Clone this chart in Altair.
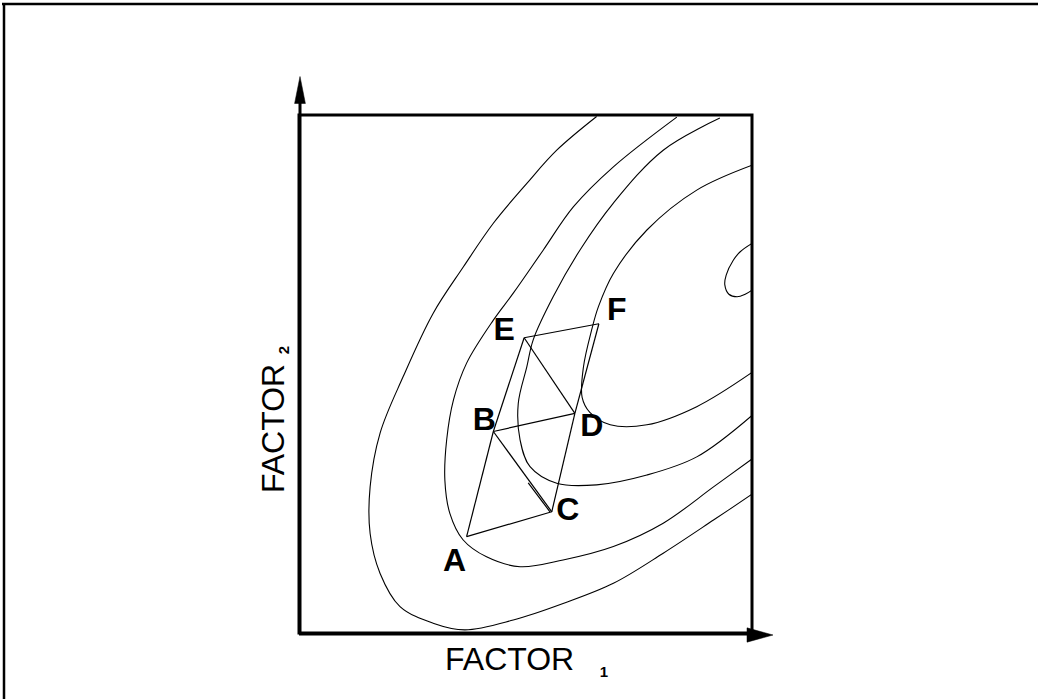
import altair as alt
import pandas as pd

# --- Simplex vertices (FACTOR 1, FACTOR 2 in % of the experimental range) ---
vertex_names = ["A", "B", "C", "D", "E", "F"]
vertex_f1 = [37.0, 42.9, 55.8, 60.9, 49.7, 66.2]
vertex_f2 = [18.6, 38.9, 23.4, 42.4, 57.0, 59.7]

# edges of the successive simplexes
edges = [("A", "B"), ("A", "C"), ("B", "C"), ("B", "D"), ("C", "D"),
         ("B", "E"), ("E", "D"), ("E", "F"), ("F", "D")]

# short retraced stroke beside B-C
retrace_f1 = [50.6, 55.4]
retrace_f2 = [29.0, 23.4]

# --- Response-surface contour lines ---
c1_f1 = [65.7, 56.9, 50.3, 42.9, 36.3, 29.6, 23.0, 17.9, 15.7, 15.7, 17.9, 22.3,
         29.6, 36.6, 47.3, 58.3, 69.4, 80.4, 91.5, 100.0]
c1_f2 = [99.7, 93.2, 86.8, 79.1, 70.7, 61.7, 49.5, 38.6, 28.2, 19.2, 11.5, 5.1,
         1.9, 0.6, 2.5, 5.7, 9.6, 15.4, 21.8, 26.8]

c2_f1 = [83.4, 69.4, 60.6, 53.9, 47.3, 42.9, 37.0, 34.1, 32.6, 32.2, 33.3, 36.2,
         41.4, 48.8, 58.3, 69.4, 80.4, 91.5, 100.0]
c2_f2 = [99.6, 90.0, 82.3, 73.9, 65.6, 60.4, 52.1, 45.0, 37.3, 29.5, 23.1, 18.0,
         14.7, 12.8, 14.1, 16.7, 21.2, 28.2, 33.6]

c3_f1 = [92.9, 80.4, 69.4, 62.0, 56.1, 51.7, 50.3, 48.4, 48.8, 51.0, 56.9, 65.7,
         76.8, 87.8, 100.0]
c3_f2 = [99.4, 93.2, 83.0, 73.9, 64.9, 56.6, 51.4, 44.3, 37.3, 32.1, 28.9, 28.6,
         30.5, 34.0, 42.0]

c4_f1 = [100.0, 87.8, 76.8, 69.4, 66.1, 64.6, 62.8, 62.5, 64.2, 68.7, 76.8, 87.8, 100.0]
c4_f2 = [90.3, 85.5, 77.8, 69.4, 63.0, 58.5, 51.4, 45.5, 42.6, 40.2, 40.2, 43.7, 50.3]

c5_f1 = [100.0, 97.4, 95.9, 94.3, 94.0, 94.9, 96.7, 98.5, 100.0]
c5_f2 = [75.2, 73.6, 72.0, 69.1, 67.2, 65.4, 64.9, 65.4, 66.2]

contours = [(c1_f1, c1_f2), (c2_f1, c2_f2), (c3_f1, c3_f2), (c4_f1, c4_f2), (c5_f1, c5_f2)]

W, H = 453, 518
INK = "black"
FONT = "Liberation Sans"

xs = alt.Scale(domain=[0, 100], nice=False, zero=False)
ys = alt.Scale(domain=[0, 100], nice=False, zero=False)

# contour table
rows = []
for k, (fx, fy) in enumerate(contours):
    for i, (a, b) in enumerate(zip(fx, fy)):
        rows.append({"level": k, "i": i, "f1": a, "f2": b})
contour_df = pd.DataFrame(rows)

contour_layer = alt.Chart(contour_df).mark_line(
    color=INK, strokeWidth=1.1, interpolate="catmull-rom", clip=True
).encode(
    x=alt.X("f1:Q", scale=xs, axis=None),
    y=alt.Y("f2:Q", scale=ys, axis=None),
    detail="level:N",
    order="i:Q",
)

# simplex edge table
pos = {n: (a, b) for n, a, b in zip(vertex_names, vertex_f1, vertex_f2)}
erows = []
for k, (p, q) in enumerate(edges):
    erows.append({"edge": k, "i": 0, "f1": pos[p][0], "f2": pos[p][1]})
    erows.append({"edge": k, "i": 1, "f1": pos[q][0], "f2": pos[q][1]})
for i, (a, b) in enumerate(zip(retrace_f1, retrace_f2)):
    erows.append({"edge": len(edges), "i": i, "f1": a, "f2": b})
edge_df = pd.DataFrame(erows)

edge_layer = alt.Chart(edge_df).mark_line(color=INK, strokeWidth=1.2).encode(
    x=alt.X("f1:Q", scale=xs, axis=None),
    y=alt.Y("f2:Q", scale=ys, axis=None),
    detail="edge:N",
    order="i:Q",
)

# vertex labels, each nudged off its vertex
vertex_df = pd.DataFrame({"name": vertex_names, "f1": vertex_f1, "f2": vertex_f2})
label_offsets = {"A": (-12, 24), "B": (-9, -11), "C": (16, -2),
                 "D": (17, 13), "E": (-20, -8), "F": (18, -14)}
label_layers = []
for n in vertex_names:
    dx, dy = label_offsets[n]
    label_layers.append(
        alt.Chart(vertex_df).transform_filter(alt.datum.name == n).mark_text(
            font=FONT, fontSize=32, fontWeight="bold", color=INK,
            align="center", baseline="middle", dx=dx, dy=dy,
        ).encode(
            x=alt.X("f1:Q", scale=xs, axis=None),
            y=alt.Y("f2:Q", scale=ys, axis=None),
            text="name:N",
        )
    )

# axis extensions with arrow heads
y_axis_ext = alt.Chart(pd.DataFrame({"k": [0]})).mark_rule(color=INK, strokeWidth=3).encode(
    x=alt.value(1), y=alt.value(H), y2=alt.value(-16))
x_axis_ext = alt.Chart(pd.DataFrame({"k": [0]})).mark_rule(color=INK, strokeWidth=3).encode(
    x=alt.value(0), x2=alt.value(452), y=alt.value(H + 1))

y_arrow = alt.Chart(pd.DataFrame({"k": [0]})).mark_point(
    shape="M0,-1L0.4,1L-0.4,1Z", filled=True, fill=INK, stroke=INK, strokeWidth=0.5,
    size=729, opacity=1,
).encode(x=alt.value(1), y=alt.value(-25))

x_arrow = alt.Chart(pd.DataFrame({"k": [0]})).mark_point(
    shape="M1,0L-1,0.55L-1,-0.55Z", filled=True, fill=INK, stroke=INK, strokeWidth=0.5,
    size=676, opacity=1,
).encode(x=alt.value(461), y=alt.value(H + 2))

# page frame (top and left edges)
frame_top = alt.Chart(pd.DataFrame({"k": [0]})).mark_rule(color=INK, strokeWidth=2.5).encode(
    x=alt.value(-297), x2=alt.value(1038 - 299), y=alt.value(-111))
frame_left = alt.Chart(pd.DataFrame({"k": [0]})).mark_rule(color=INK, strokeWidth=2.5).encode(
    x=alt.value(-295), y=alt.value(-112), y2=alt.value(699 - 115))

# axis titles with subscripts
def text_at(txt, x, y, size, weight="normal", angle=0, align="left"):
    return alt.Chart(pd.DataFrame({"t": [txt]})).mark_text(
        font=FONT, fontSize=size, fontWeight=weight, color=INK,
        align=align, baseline="alphabetic", angle=angle,
    ).encode(x=alt.value(x), y=alt.value(y), text="t:N")

x_title = text_at("FACTOR", 146, 555, 32)
x_sub = text_at("1", 305, 562, 15, weight="bold", align="center")
y_title = text_at("FACTOR", -15, 378, 32, angle=270)
y_sub = text_at("2", -10, 235, 15, weight="bold", angle=270, align="center")

chart = alt.layer(
    contour_layer, edge_layer, *label_layers,
    y_axis_ext, x_axis_ext, y_arrow, x_arrow,
    frame_top, frame_left,
    x_title, x_sub, y_title, y_sub,
).properties(
    width=W, height=H,
    autosize=alt.AutoSizeParams(type="none"),
    padding={"left": 299, "top": 115, "right": 1038 - 299 - W, "bottom": 699 - 115 - H},
    background="white",
).configure_view(stroke=INK, strokeWidth=3)

chart.save("out.html", embed_options={"renderer": "svg", "actions": False})
